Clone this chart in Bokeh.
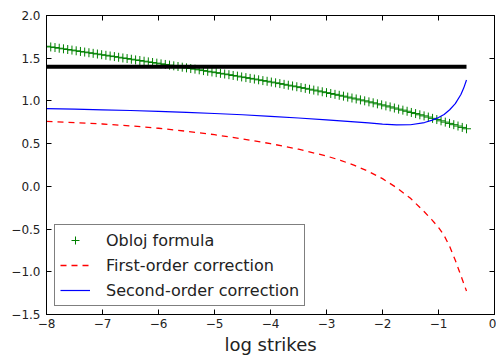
import numpy as np
from bokeh.plotting import figure
from bokeh.models import (Range1d, FixedTicker, LinearAxis, Legend, LegendItem,
                          CustomJSTickFormatter)
from bokeh.embed import file_html
from bokeh.resources import INLINE

# ---------------- data ----------------
x_ticks = [-8, -7, -6, -5, -4, -3, -2, -1, 0]
y_ticks = [-1.5, -1.0, -0.5, 0.0, 0.5, 1.0, 1.5, 2.0]

obloj_x = np.linspace(-8.0, -0.5, 100)
obloj_y = [
    1.640, 1.632, 1.625, 1.617, 1.610, 1.602, 1.595, 1.587, 1.579, 1.572,
    1.564, 1.557, 1.549, 1.541, 1.534, 1.526, 1.519, 1.511, 1.503, 1.496,
    1.488, 1.480, 1.473, 1.465, 1.457, 1.450, 1.442, 1.434, 1.427, 1.419,
    1.411, 1.403, 1.395, 1.387, 1.379, 1.372, 1.364, 1.355, 1.347, 1.339,
    1.331, 1.323, 1.315, 1.307, 1.298, 1.290, 1.281, 1.273, 1.264, 1.256,
    1.247, 1.238, 1.230, 1.221, 1.212, 1.203, 1.194, 1.184, 1.175, 1.166,
    1.156, 1.147, 1.137, 1.127, 1.117, 1.107, 1.097, 1.087, 1.077, 1.066,
    1.056, 1.045, 1.034, 1.023, 1.012, 1.001, 0.989, 0.978, 0.966, 0.954,
    0.942, 0.930, 0.917, 0.904, 0.892, 0.879, 0.865, 0.852, 0.838, 0.825,
    0.811, 0.796, 0.782, 0.767, 0.752, 0.737, 0.722, 0.706, 0.690, 0.674,
]

corr_x = [-8.0, -7.5, -7.0, -6.5, -6.0, -5.5, -5.0, -4.5, -4.0, -3.5, -3.0,
          -2.75, -2.5, -2.25, -2.0, -1.75, -1.5, -1.25, -1.125, -1.0, -0.9,
          -0.8, -0.7, -0.6, -0.55, -0.5]
first_order = [0.760, 0.747, 0.730, 0.708, 0.680, 0.645, 0.605, 0.555, 0.500,
               0.435, 0.355, 0.305, 0.245, 0.175, 0.090, -0.015, -0.140,
               -0.300, -0.387, -0.480, -0.575, -0.705, -0.865, -1.045,
               -1.135, -1.225]
second_order = [0.910, 0.903, 0.896, 0.888, 0.878, 0.867, 0.853, 0.838, 0.820,
                0.800, 0.778, 0.766, 0.754, 0.742, 0.729, 0.719, 0.721,
                0.747, 0.772, 0.805, 0.842, 0.897, 0.968, 1.075, 1.150, 1.245]

flat_x = [-8.0, -0.5]
flat_y = [1.4, 1.4]

# ---------------- figure ----------------
FONT = "DejaVu Sans"
p = figure(width=496, height=357, output_backend="svg", toolbar_location=None,
           x_range=Range1d(-8, 0), y_range=Range1d(-1.5, 2.0),
           min_border_left=46, min_border_top=15, min_border_right=2,
           min_border_bottom=43,
           background_fill_color="white", border_fill_color="white")
p.xgrid.visible = False
p.ygrid.visible = False
p.outline_line_color = "black"
p.outline_line_width = 1

xfmt = CustomJSTickFormatter(code="return (tick < 0 ? '\\u2212' : '') + Math.abs(tick).toFixed(0);")
yfmt = CustomJSTickFormatter(code="return (tick < 0 ? '\\u2212' : '') + Math.abs(tick).toFixed(1);")
blank = CustomJSTickFormatter(code="return '';")

def style_axis(ax):
    ax.axis_line_color = "black"
    ax.major_tick_in = 5
    ax.major_tick_out = 0
    ax.minor_tick_line_color = None
    ax.major_tick_line_color = "black"
    ax.major_label_text_font = FONT
    ax.major_label_text_color = "#222222"
    ax.major_label_text_font_size = "12px"

p.xaxis.ticker = FixedTicker(ticks=x_ticks)
p.yaxis.ticker = FixedTicker(ticks=y_ticks)
p.xaxis.formatter = xfmt
p.yaxis.formatter = yfmt
style_axis(p.xaxis[0])
style_axis(p.yaxis[0])
p.yaxis.major_label_standoff = 6
p.xaxis.major_label_standoff = 4
p.xaxis.axis_label = "log strikes"
p.xaxis.axis_label_text_font = FONT
p.xaxis.axis_label_text_font_size = "18px"
p.xaxis.axis_label_text_font_style = "normal"
p.xaxis.axis_label_text_color = "#222222"
p.xaxis.axis_label_standoff = 3

top = LinearAxis(ticker=FixedTicker(ticks=x_ticks), formatter=blank)
right = LinearAxis(ticker=FixedTicker(ticks=y_ticks), formatter=blank)
for ax in (top, right):
    style_axis(ax)
    ax.major_label_text_color = None
    ax.major_label_standoff = 0
p.add_layout(top, "above")
p.add_layout(right, "right")

# ---------------- glyphs ----------------
r_obloj = p.scatter(obloj_x, obloj_y, marker="cross", size=9,
                    line_color="#008000", line_width=1)
r_first = p.line(corr_x, first_order, line_color="#ff0000", line_width=1.3,
                 line_dash="6 5")
r_second = p.line(corr_x, second_order, line_color="#0000ff", line_width=1.2)
r_flat = p.line(flat_x, flat_y, line_color="black", line_width=4)

legend = Legend(items=[
    LegendItem(label="Obloj formula", renderers=[r_obloj]),
    LegendItem(label="First-order correction", renderers=[r_first]),
    LegendItem(label="Second-order correction", renderers=[r_second]),
], location="bottom_left")
legend.label_text_font = FONT
legend.label_text_font_size = "16px"
legend.label_text_color = "#222222"
legend.label_height = 20
legend.glyph_height = 20
legend.glyph_width = 30
legend.label_standoff = 16
legend.spacing = 5
legend.padding = 5
legend.margin = 8
legend.border_line_color = "black"
legend.border_line_width = 1
legend.background_fill_color = "white"
legend.background_fill_alpha = 1.0
p.add_layout(legend)

open("out.html", "w").write(file_html(p, INLINE))
